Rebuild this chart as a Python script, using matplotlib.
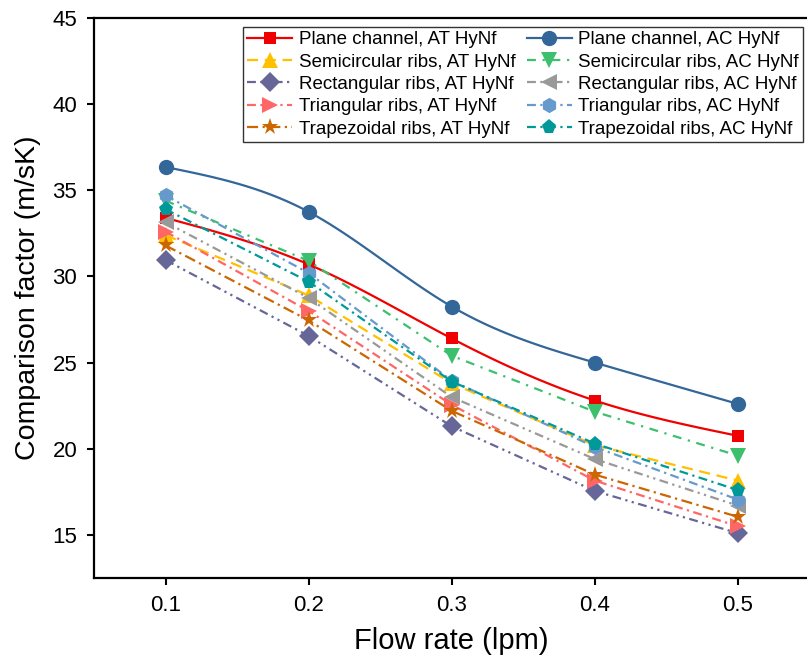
import numpy as np
import matplotlib
matplotlib.use("Agg")
import matplotlib.pyplot as plt
from matplotlib.lines import Line2D

plt.rcParams['font.family'] = ['Liberation Sans', 'DejaVu Sans']

flow_rate = [0.1, 0.2, 0.3, 0.4, 0.5]

plane_at = [33.4, 30.7, 26.4, 22.8, 20.75]
semi_at = [32.4, 28.9, 23.8, 20.2, 18.15]
rect_at = [30.95, 26.55, 21.3, 17.55, 15.1]
tri_at = [32.6, 28.0, 22.55, 18.15, 15.5]
trap_at = [31.8, 27.45, 22.2, 18.5, 16.05]

plane_ac = [36.35, 33.75, 28.25, 25.0, 22.6]
semi_ac = [34.4, 30.9, 25.4, 22.15, 19.6]
rect_ac = [33.15, 28.75, 23.0, 19.4, 16.7]
tri_ac = [34.7, 30.2, 23.95, 20.1, 17.05]
trap_ac = [33.9, 29.7, 23.9, 20.3, 17.6]

labels = [
    "Plane channel, AT HyNf", "Semicircular ribs, AT HyNf", "Rectangular ribs, AT HyNf",
    "Triangular ribs, AT HyNf", "Trapezoidal ribs, AT HyNf",
    "Plane channel, AC HyNf", "Semicircular ribs, AC HyNf", "Rectangular ribs, AC HyNf",
    "Triangular ribs, AC HyNf", "Trapezoidal ribs, AC HyNf",
]
series = [plane_at, semi_at, rect_at, tri_at, trap_at,
          plane_ac, semi_ac, rect_ac, tri_ac, trap_ac]
colors = ["#F00000", "#FFC000", "#666699", "#FF6666", "#CC6600",
          "#336699", "#3CC06E", "#999999", "#6699CC", "#009999"]
markers = ["s", "^", "D", ">", "*", "o", "v", "<", "h", "p"]
msizes = [9, 11, 10, 11, 12.5, 11, 11, 11, 11, 11]
dashes = [None, (5, 3), (4, 2, 1, 2, 1, 2), (4, 2, 1, 2), (5, 2, 1, 2),
          None, (4, 3, 1, 3), (4, 2, 1, 2, 1, 2), (4, 2, 1, 2), (4, 2, 1, 2)]


def natural_spline(x, y, n=120):
    # natural cubic spline, only for drawing the smooth connector
    x = np.asarray(x, float)
    y = np.asarray(y, float)
    k = len(x)
    h = np.diff(x)
    A = np.zeros((k, k))
    b = np.zeros(k)
    A[0, 0] = 1
    A[-1, -1] = 1
    for i in range(1, k - 1):
        A[i, i - 1] = h[i - 1]
        A[i, i] = 2 * (h[i - 1] + h[i])
        A[i, i + 1] = h[i]
        b[i] = 3 * ((y[i + 1] - y[i]) / h[i] - (y[i] - y[i - 1]) / h[i - 1])
    c = np.linalg.solve(A, b)
    xs = np.linspace(x[0], x[-1], n)
    ys = np.empty_like(xs)
    for j, xv in enumerate(xs):
        i = min(np.searchsorted(x, xv, side="right") - 1, k - 2)
        bi = (y[i + 1] - y[i]) / h[i] - h[i] * (2 * c[i] + c[i + 1]) / 3
        di = (c[i + 1] - c[i]) / (3 * h[i])
        t = xv - x[i]
        ys[j] = y[i] + bi * t + c[i] * t ** 2 + di * t ** 3
    return xs, ys


fig = plt.figure(figsize=(8.07, 6.68), dpi=100)
ax = fig.add_axes([94 / 807, 1 - 578 / 668, (809.5 - 94) / 807, (578 - 18) / 668])

handles = []
for ys, lab, col, mk, ms, ds in zip(series, labels, colors, markers, msizes, dashes):
    if ds is None:
        sx, sy = natural_spline(flow_rate, ys)
        ax.plot(sx, sy, color=col, lw=1.6)
        ax.plot(flow_rate, ys, color=col, linestyle="none", marker=mk,
                markersize=ms, markeredgewidth=0)
        handles.append(Line2D([], [], color=col, lw=1.6, marker=mk,
                              markersize=ms, markeredgewidth=0))
    else:
        ln, = ax.plot(flow_rate, ys, color=col, lw=1.6, marker=mk, markersize=ms,
                      markeredgewidth=0, dashes=ds)
        handles.append(ln)

leg = fig.legend(handles, labels, ncol=2, loc="upper right",
                 bbox_to_anchor=(803 / 807, 1 - 27 / 668), bbox_transform=fig.transFigure,
                 borderaxespad=0, fontsize=13.5, frameon=True, fancybox=False,
                 handlelength=2.4, handletextpad=0.35, labelspacing=0.28,
                 columnspacing=0.6, borderpad=0.22)
leg.get_frame().set_edgecolor("black")
leg.get_frame().set_linewidth(1.0)

ax.set_xlim(0.05, 0.55)
ax.set_ylim(12.5, 45)
ax.set_xticks(flow_rate)
ax.set_xticklabels(["0.1", "0.2", "0.3", "0.4", "0.5"])
ax.set_yticks([15, 20, 25, 30, 35, 40, 45])
ax.tick_params(direction="out", length=5, width=1.5, labelsize=16, pad=7)
ax.spines["right"].set_visible(False)
for s in ["left", "bottom", "top"]:
    ax.spines[s].set_linewidth(1.6)

ax.set_xlabel("Flow rate (lpm)", fontsize=21, labelpad=8)
ax.set_ylabel("Comparison factor (m/sK)", fontsize=20.5, labelpad=8)

fig.savefig("out.png", dpi=100)
